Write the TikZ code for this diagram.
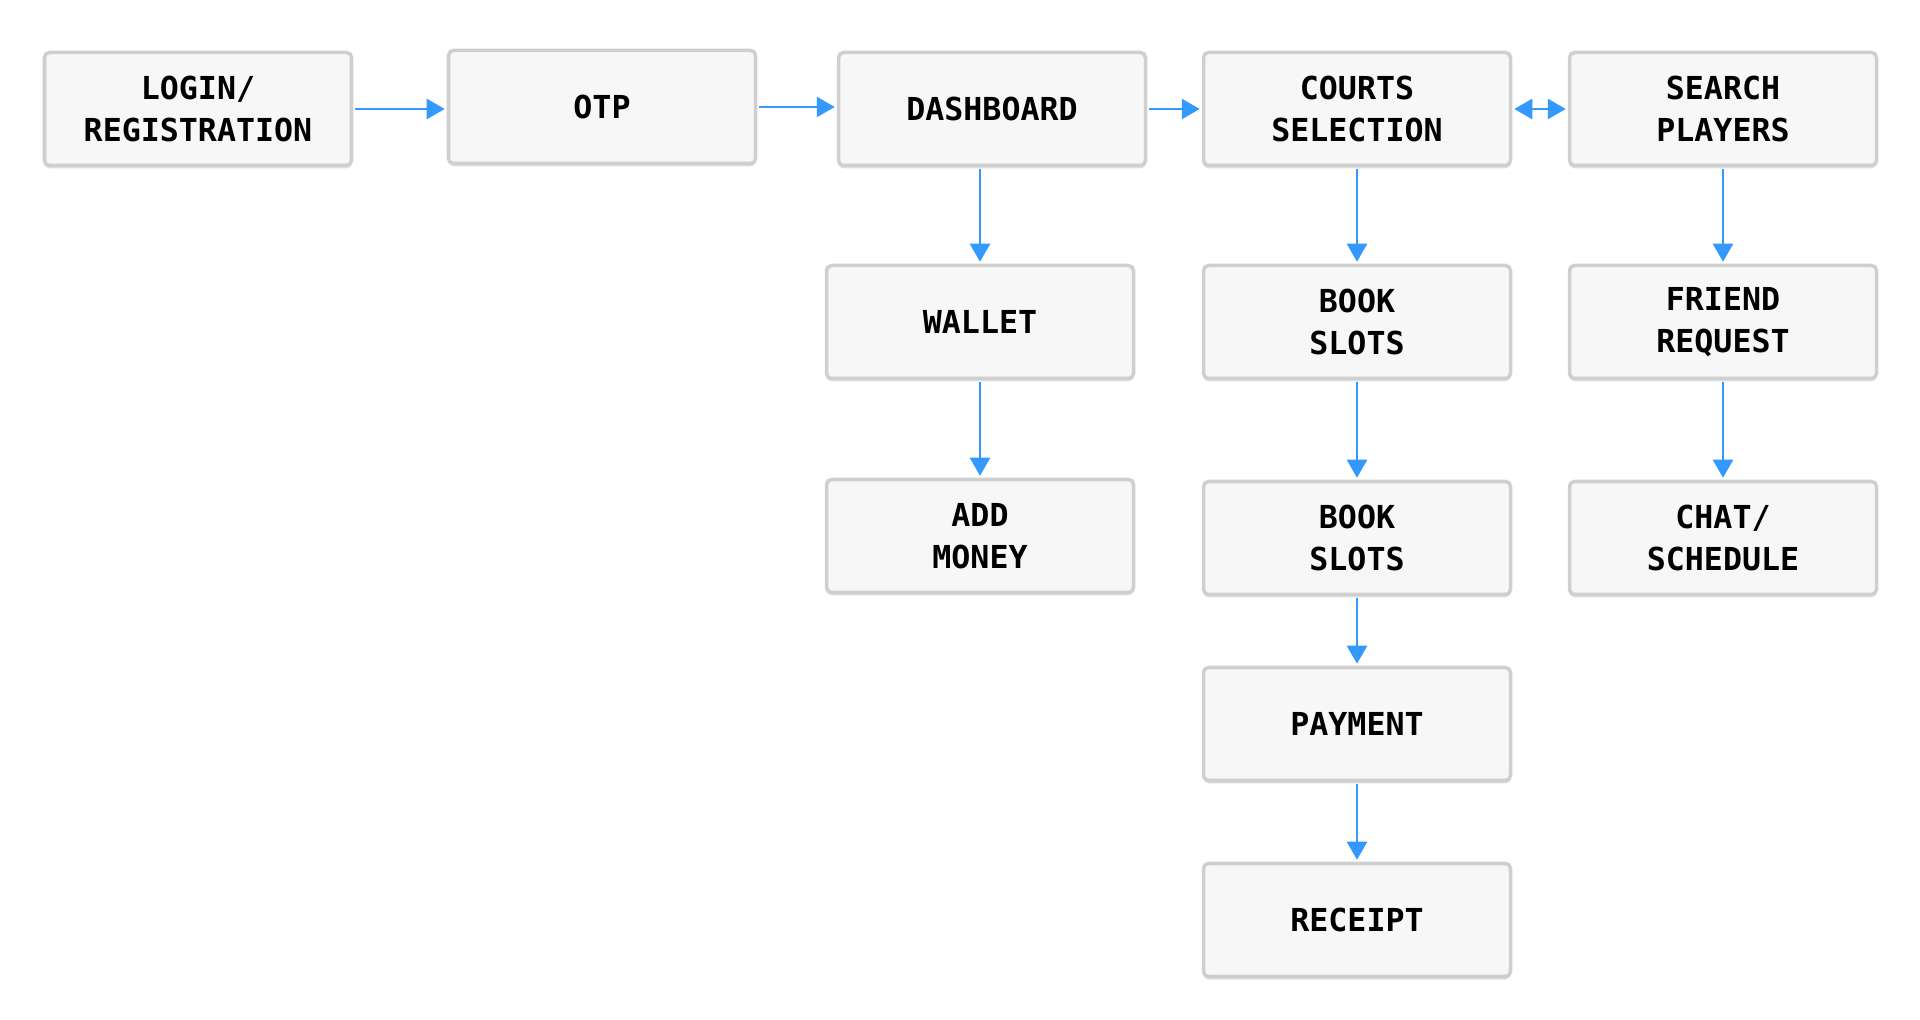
\documentclass[tikz,border=0pt]{standalone}
\usepackage{fontspec}
\setmonofont{DejaVu Sans Mono}
\usetikzlibrary{arrows.meta,shadows}
\definecolor{boxfill}{HTML}{F7F7F7}
\definecolor{boxline}{HTML}{CFCFCF}
\definecolor{flowblue}{HTML}{3399FF}
\tikzset{
  screen/.style={draw=boxline, line width=1pt, fill=boxfill, rounded corners=0.05cm,
    minimum width=3.07cm, minimum height=1.13cm, align=center,
    font={\ttfamily\bfseries\fontsize{9}{11.8}\selectfont},
    drop shadow={shadow xshift=0cm, shadow yshift=-0.03cm, opacity=0.12, fill=black}},
  flow/.style={draw=flowblue, line width=0.75pt, -{Triangle[length=0.18cm, width=0.2cm]}, shorten >=0.02cm, shorten <=0.02cm},
  flowboth/.style={flow, {Triangle[length=0.18cm, width=0.2cm]}-{Triangle[length=0.18cm, width=0.2cm]}}
}
\begin{document}
\begin{tikzpicture}
  \useasboundingbox (0,0) rectangle (19.2,10.19);
  % screens
  \foreach \name/\x/\y/\txt in {login/1.98/9.10/{LOGIN/\\REGISTRATION}, otp/6.02/9.12/{OTP}, dash/9.92/9.10/{DASHBOARD},
      courts/13.57/9.10/{COURTS\\SELECTION}, search/17.23/9.10/{SEARCH\\PLAYERS},
      wallet/9.80/6.97/{WALLET}, slotsa/13.57/6.97/{BOOK\\SLOTS}, friend/17.23/6.97/{FRIEND\\REQUEST},
      money/9.80/4.83/{ADD\\MONEY}, slotsb/13.57/4.81/{BOOK\\SLOTS}, chat/17.23/4.81/{CHAT/\\SCHEDULE},
      payment/13.57/2.95/{PAYMENT}, receipt/13.57/0.99/{RECEIPT}} {
    \node[screen] (\name) at (\x,\y) {\txt};
  }
  % horizontal flow
  \foreach \a/\b in {login/otp, otp/dash, dash/courts} {
    \draw[flow] (\a.east) -- (\a.east -| \b.west);
  }
  \draw[flowboth] (courts.east) -- (search.west);
  % vertical flow
  \draw[flow] (dash.south -| wallet) -- (wallet.north);
  \foreach \a/\b in {wallet/money, courts/slotsa, slotsa/slotsb, slotsb/payment, payment/receipt, search/friend, friend/chat} {
    \draw[flow] (\a.south) -- (\b.north);
  }
\end{tikzpicture}
\end{document}
